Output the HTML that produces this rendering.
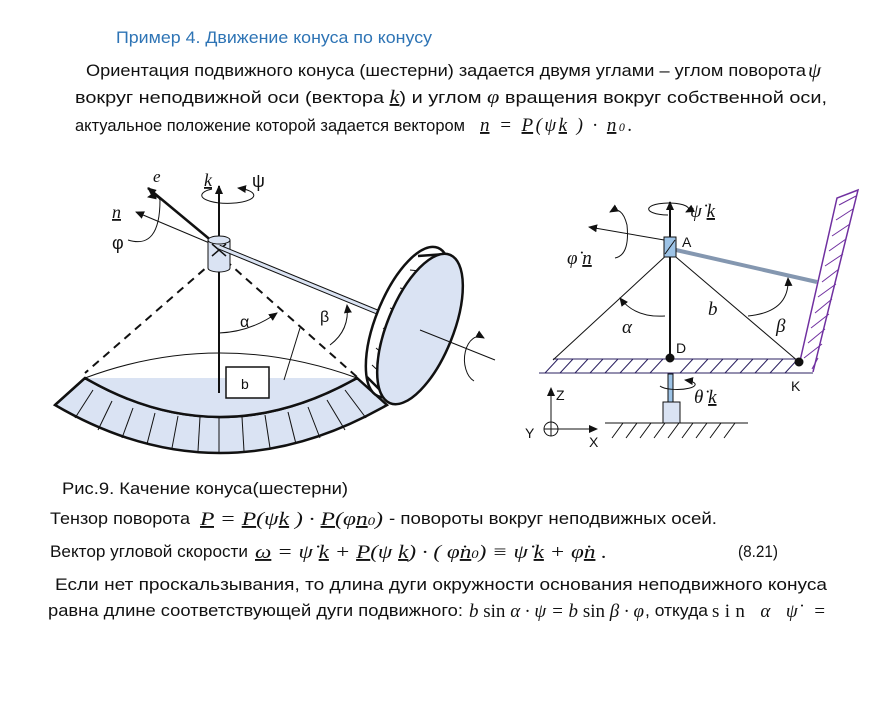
<!DOCTYPE html>
<html><head><meta charset="utf-8"><style>
body{margin:0;background:#fff}
svg{display:block}
text{font-family:"Liberation Sans",sans-serif;font-size:17px;fill:#111}
.m{font-family:"Liberation Serif",serif;font-style:italic;font-size:19px}
.u{text-decoration:underline}
.s{font-family:"Liberation Sans",sans-serif;font-size:14px}
</style></head><body>
<svg width="873" height="712" viewBox="0 0 873 712" xmlns="http://www.w3.org/2000/svg">
<defs>
<marker id="ar" markerWidth="10" markerHeight="10" refX="8" refY="5" orient="auto" markerUnits="userSpaceOnUse"><path d="M0,1 L9,5 L0,9 Z" fill="#111"/></marker>
</defs>
<text x="116" y="43" style="fill:#2e74b5;font-size:17px" textLength="316" lengthAdjust="spacingAndGlyphs">Пример 4. Движение конуса по конусу</text>
<text x="86" y="76" textLength="720" lengthAdjust="spacingAndGlyphs">Ориентация подвижного конуса  (шестерни) задается двумя углами – углом поворота</text>
<text x="808" y="77" class="m" style="font-size:21px">ψ</text>
<text x="75" y="103" textLength="752" lengthAdjust="spacingAndGlyphs">вокруг   неподвижной   оси   (вектора   <tspan class="m u">k</tspan>)   и   углом   <tspan class="m">φ</tspan>   вращения   вокруг   собственной   оси,</text>
<text x="75" y="131" textLength="390" lengthAdjust="spacingAndGlyphs">актуальное положение которой задается вектором</text>
<text x="480" y="131" class="m" textLength="152" lengthAdjust="spacing"><tspan class="u">n</tspan> = <tspan class="u">P</tspan>(ψ<tspan class="u">k</tspan> ) · <tspan class="u">n</tspan><tspan style="font-size:12px">0</tspan><tspan style="font-style:normal">.</tspan></text>

<text x="62" y="494" textLength="286" lengthAdjust="spacingAndGlyphs">Рис.9. Качение конуса(шестерни)</text>
<text x="50" y="524" textLength="140" lengthAdjust="spacingAndGlyphs">Тензор поворота</text>
<text x="200" y="525" class="m" textLength="183" lengthAdjust="spacingAndGlyphs"><tspan class="u">P</tspan> = <tspan class="u">P</tspan>(ψ<tspan class="u">k</tspan> ) · <tspan class="u">P</tspan>(φ<tspan class="u">n</tspan><tspan style="font-size:12px">0</tspan>)</text>
<text x="389" y="524" textLength="328" lengthAdjust="spacingAndGlyphs">- повороты вокруг неподвижных осей.</text>
<text x="50" y="557" textLength="198" lengthAdjust="spacingAndGlyphs">Вектор угловой скорости</text>
<text x="255" y="558" class="m" textLength="352" lengthAdjust="spacingAndGlyphs"><tspan class="u">ω</tspan> = ψ̇ <tspan class="u">k</tspan> + <tspan class="u">P</tspan>(ψ <tspan class="u">k</tspan>) · ( φ̇<tspan class="u">n</tspan><tspan style="font-size:12px">0</tspan>) ≡ ψ̇ <tspan class="u">k</tspan> + φ̇<tspan class="u">n</tspan> .</text>
<text x="738" y="557" textLength="40" lengthAdjust="spacingAndGlyphs">(8.21)</text>
<text x="55" y="590" textLength="772" lengthAdjust="spacingAndGlyphs">Если   нет   проскальзывания,   то   длина   дуги   окружности   основания   неподвижного   конуса</text>
<text x="48" y="616" textLength="415" lengthAdjust="spacingAndGlyphs">равна длине соответствующей дуги подвижного:</text>
<text x="469" y="617" class="m" textLength="175" lengthAdjust="spacingAndGlyphs">b <tspan style="font-style:normal">sin</tspan> α  · ψ = b <tspan style="font-style:normal">sin</tspan> β · φ</text>
<text x="645" y="616" textLength="63" lengthAdjust="spacingAndGlyphs">, откуда</text>
<text x="712" y="617" class="m" textLength="114" lengthAdjust="spacing"><tspan style="font-style:normal">sin</tspan> α ψ̇ =</text>

<!-- Diagram 1 -->
<g stroke="#111" fill="none">
<path d="M55,405 Q219,501 387,405 L357,378 Q219,456 85,378 Z" fill="#dae3f3" stroke-width="2.5"/>
<path d="M85,378 L357,378 Q219,456 85,378 Z" fill="#dae3f3" stroke="none"/>
<path d="M85,378 Q219,328 357,378" stroke-width="1"/>
<path d="M85,378 Q219,456 357,378" stroke-width="2.5"/>
<g stroke-width="1">
<line x1="93" y1="390" x2="75" y2="418"/><line x1="112" y1="401" x2="98" y2="430"/><line x1="133" y1="408" x2="122" y2="438"/><line x1="155" y1="413" x2="147" y2="444"/><line x1="178" y1="416" x2="172" y2="448"/><line x1="200" y1="417" x2="198" y2="451"/><line x1="219" y1="417" x2="219" y2="453"/><line x1="242" y1="417" x2="244" y2="451"/><line x1="265" y1="415" x2="270" y2="448"/><line x1="288" y1="412" x2="296" y2="444"/><line x1="308" y1="407" x2="320" y2="438"/><line x1="327" y1="400" x2="345" y2="430"/><line x1="345" y1="390" x2="366" y2="418"/>
</g>
<line x1="55" y1="405" x2="85" y2="378" stroke-width="2.5"/>
<line x1="215" y1="260" x2="85" y2="373" stroke-width="2" stroke-dasharray="8,6"/>
<line x1="225" y1="260" x2="357" y2="377" stroke-width="2" stroke-dasharray="8,6"/>
<rect x="226" y="367" width="43" height="31" fill="#fff" stroke-width="1.5"/>
<line x1="219" y1="393" x2="219" y2="186" stroke-width="2" marker-end="url(#ar)"/>
<line x1="219" y1="247" x2="148" y2="188" stroke-width="2.5" marker-end="url(#ar)"/>
<line x1="219" y1="247" x2="136" y2="212" stroke-width="1" marker-end="url(#ar)"/>
<path d="M208,240 L208,268 A11,4 0 0 0 230,268 L230,240" fill="#dae3f3" stroke-width="1"/>
<ellipse cx="219" cy="240" rx="11" ry="4" fill="#dae3f3" stroke-width="1"/>
<line x1="212" y1="244" x2="226" y2="256" stroke-width="1.5"/><line x1="226" y1="244" x2="212" y2="256" stroke-width="1.5"/>
<line x1="219" y1="247" x2="382" y2="314" stroke="#111" stroke-width="5"/>
<line x1="219" y1="247" x2="382" y2="314" stroke="#dae3f3" stroke-width="3"/>
<g transform="rotate(22 408 322)"><ellipse cx="408" cy="322" rx="32" ry="80" fill="#fff" stroke-width="2.5"/></g>
<path d="M418,256 L446,254 M367,377 L392,402" stroke-width="2.5"/>
<g stroke-width="1"><line x1="410" y1="270" x2="430" y2="272"/><line x1="400" y1="288" x2="418" y2="292"/><line x1="390" y1="308" x2="407" y2="314"/><line x1="383" y1="328" x2="398" y2="338"/><line x1="376" y1="348" x2="390" y2="360"/><line x1="372" y1="365" x2="386" y2="378"/></g>
<g transform="rotate(22 420 329)"><ellipse cx="420" cy="329" rx="33" ry="80" fill="#dae3f3" stroke-width="2.5"/></g>
<line x1="420" y1="330" x2="495" y2="360" stroke-width="1"/>
<path d="M474,381 A14,22 0 0 1 484,338" stroke-width="1" marker-end="url(#ar)"/>
<path d="M219,333 Q250,332 277,313" stroke-width="1" marker-end="url(#ar)"/>
<path d="M330,345 Q350,330 347,305" stroke-width="1" marker-end="url(#ar)"/>
<path d="M212,189 A26,8 0 1 0 238,188" stroke-width="1" marker-end="url(#ar)"/>
<path d="M128,240 Q160,250 160,200 Q158,195 148,197" stroke-width="1" marker-end="url(#ar)"/>
<line x1="284" y1="380" x2="300" y2="328" stroke-width="1"/>
</g>
<text x="153" y="182" class="m" style="font-size:17px">e</text>
<text x="204" y="186" class="m u" style="font-size:18px">k</text>
<text x="252" y="187" style="font-size:18px">ψ</text>
<text x="112" y="218" class="m u" style="font-size:18px">n</text>
<text x="112" y="249" style="font-size:18px">φ</text>
<text x="240" y="327" style="font-size:16px">α</text>
<text x="320" y="322" style="font-size:16px">β</text>
<text x="241" y="389" class="s">b</text>

<!-- Diagram 2 -->
<g stroke="#111" fill="none">
<path d="M800,361 L837,198 L858,190 L813,372" stroke="#7030a0" stroke-width="1.5"/>
<g stroke="#7030a0" stroke-width="1">
<line x1="839" y1="205" x2="856" y2="196"/><line x1="836" y1="220" x2="853" y2="209"/><line x1="832" y1="236" x2="850" y2="224"/><line x1="829" y1="251" x2="846" y2="239"/><line x1="825" y1="266" x2="843" y2="254"/><line x1="822" y1="282" x2="839" y2="269"/><line x1="818" y1="297" x2="836" y2="284"/><line x1="815" y1="313" x2="832" y2="299"/><line x1="811" y1="328" x2="829" y2="314"/><line x1="808" y1="343" x2="825" y2="329"/><line x1="804" y1="358" x2="822" y2="344"/><line x1="812" y1="369" x2="818" y2="358"/>
</g>
<line x1="553" y1="359" x2="800" y2="359" stroke="#2b2060" stroke-width="1"/>
<line x1="539" y1="373" x2="813" y2="373" stroke="#2b2060" stroke-width="1"/>
<g stroke="#2b2060" stroke-width="1">
<path d="M545,373 L558,359 M560,373 L573,359 M575,373 L588,359 M590,373 L603,359 M605,373 L618,359 M620,373 L633,359 M635,373 L648,359 M650,373 L663,359 M680,373 L693,359 M695,373 L708,359 M710,373 L723,359 M725,373 L738,359 M740,373 L753,359 M755,373 L768,359 M770,373 L783,359 M785,373 L798,359"/>
</g>
<line x1="670" y1="252" x2="553" y2="360" stroke-width="1"/>
<line x1="670" y1="252" x2="799" y2="362" stroke-width="1"/>
<line x1="676" y1="250" x2="817" y2="282" stroke="#8497b0" stroke-width="4"/>
<line x1="670" y1="358" x2="670" y2="202" stroke-width="2" marker-end="url(#ar)"/>
<line x1="670" y1="241" x2="589" y2="227" stroke-width="1" marker-end="url(#ar)"/>
<rect x="664" y="237" width="12" height="20" fill="#9dc3e6" stroke-width="1"/>
<line x1="665" y1="254" x2="675" y2="240" stroke-width="1"/>
<circle cx="670" cy="358" r="4" fill="#111"/>
<circle cx="799" cy="362" r="4" fill="#111"/>
<rect x="668" y="374" width="5" height="30" fill="#9dc3e6" stroke-width="1"/>
<rect x="663" y="402" width="17" height="21" fill="#dae3f3" stroke-width="1"/>
<line x1="605" y1="423" x2="748" y2="423" stroke-width="1"/>
<path d="M623,423 L612,438 M637,423 L626,438 M651,423 L640,438 M665,423 L654,438 M679,423 L668,438 M693,423 L682,438 M707,423 L696,438 M721,423 L710,438 M735,423 L724,438" stroke-width="1"/>
<path d="M668,215 A20,6 0 1 1 686,212" stroke-width="1" marker-end="url(#ar)"/>
<path d="M660,386 A18,5 0 1 0 685,380" stroke-width="1" marker-end="url(#ar)"/>
<path d="M615,258 Q630,255 627,225 Q622,205 610,212" stroke-width="1" marker-end="url(#ar)"/>
<path d="M665,316 Q635,318 620,298" stroke-width="1" marker-end="url(#ar)"/>
<path d="M748,316 Q790,312 788,278" stroke-width="1" marker-end="url(#ar)"/>
<circle cx="551" cy="429" r="7" stroke-width="1"/>
<line x1="544" y1="429" x2="558" y2="429" stroke-width="1"/><line x1="551" y1="422" x2="551" y2="436" stroke-width="1"/>
<line x1="551" y1="429" x2="551" y2="388" stroke-width="1" marker-end="url(#ar)"/>
<line x1="551" y1="429" x2="597" y2="429" stroke-width="1" marker-end="url(#ar)"/>
</g>
<text x="690" y="217" class="m">ψ̇ <tspan class="u">k</tspan></text>
<text x="567" y="264" class="m">φ̇ <tspan class="u">n</tspan></text>
<text x="682" y="247" class="s">A</text>
<text x="708" y="315" class="m">b</text>
<text x="622" y="333" class="m">α</text>
<text x="776" y="332" class="m">β</text>
<text x="676" y="353" class="s">D</text>
<text x="791" y="391" class="s">K</text>
<text x="694" y="403" class="m">θ̇ <tspan class="u">k</tspan></text>
<text x="556" y="400" class="s">Z</text>
<text x="525" y="438" class="s">Y</text>
<text x="589" y="447" class="s">X</text>
</svg>
</body></html>
